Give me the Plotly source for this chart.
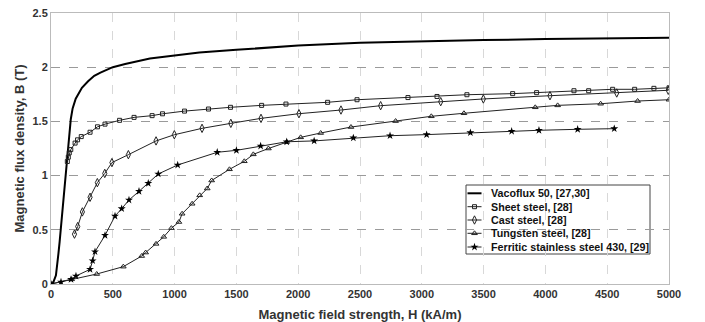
import plotly.graph_objects as go

vac_H = [0, 20, 40, 50, 60, 70, 80, 90, 100, 110, 120, 130, 140, 150, 160, 175, 200, 250, 300, 350, 400, 500, 600, 800, 1000, 1200, 1500, 2000, 2500, 3000, 3500, 4000, 4500, 5000]
vac_B = [0, 0.02, 0.08, 0.16, 0.28, 0.39, 0.52, 0.66, 0.8, 0.93, 1.05, 1.18, 1.3, 1.42, 1.52, 1.62, 1.71, 1.81, 1.87, 1.92, 1.95, 2.0, 2.03, 2.08, 2.11, 2.135, 2.16, 2.2, 2.225, 2.24, 2.25, 2.26, 2.265, 2.272]

sheet_H = [132, 140, 148, 160, 195, 215, 245, 316, 376, 437, 555, 672, 818, 902, 1080, 1274, 1452, 1704, 1901, 2238, 2476, 2888, 3123, 3365, 3735, 3929, 4231, 4350, 4544, 4722, 4878, 5000]
sheet_B = [1.13, 1.17, 1.21, 1.24, 1.30, 1.33, 1.36, 1.40, 1.45, 1.475, 1.51, 1.537, 1.553, 1.57, 1.595, 1.614, 1.63, 1.648, 1.66, 1.676, 1.70, 1.72, 1.73, 1.746, 1.756, 1.765, 1.783, 1.783, 1.796, 1.796, 1.805, 1.81]

cast_H = [190, 216, 254, 316, 375, 435, 493, 626, 850, 998, 1222, 1455, 1699, 2006, 2346, 2667, 3153, 3498, 4037, 4577, 4994]
cast_B = [0.46, 0.53, 0.665, 0.80, 0.935, 1.02, 1.12, 1.193, 1.32, 1.377, 1.436, 1.482, 1.528, 1.571, 1.605, 1.645, 1.682, 1.707, 1.737, 1.762, 1.787]

tung_H = [0, 167, 370, 585, 734, 766, 850, 912, 974, 1035, 1061, 1142, 1203, 1264, 1300, 1444, 1564, 1637, 1759, 1907, 2020, 2182, 2427, 2788, 3077, 3341, 3918, 4099, 4447, 4746, 5000]
tung_B = [0, 0.043, 0.092, 0.16, 0.258, 0.29, 0.37, 0.435, 0.515, 0.572, 0.648, 0.74, 0.818, 0.881, 0.955, 1.058, 1.132, 1.196, 1.25, 1.31, 1.353, 1.393, 1.448, 1.503, 1.547, 1.575, 1.63, 1.648, 1.663, 1.688, 1.70]

ferr_H = [0, 81, 162, 202, 316, 337, 356, 437, 518, 572, 631, 712, 787, 868, 1025, 1345, 1500, 1696, 1907, 2129, 2446, 2743, 3039, 3393, 3727, 3948, 4261, 4557]
ferr_B = [0, 0.018, 0.043, 0.074, 0.135, 0.215, 0.298, 0.449, 0.627, 0.695, 0.775, 0.855, 0.929, 1.015, 1.098, 1.215, 1.233, 1.273, 1.312, 1.32, 1.348, 1.368, 1.378, 1.396, 1.409, 1.418, 1.427, 1.433]

series_names = ["Vacoflux 50, [27,30]", "Sheet steel, [28]", "Cast steel, [28]",
                "Tungsten steel, [28]", "Ferritic stainless steel 430, [29]"]

x_ticks = [0, 500, 1000, 1500, 2000, 2500, 3000, 3500, 4000, 4500, 5000]
y_ticks = [0, 0.5, 1, 1.5, 2, 2.5]
y_tick_text = ["0", "0.5", "1", "1.5", "2", "2.5"]

FONT = "Liberation Sans, Arial, sans-serif"
LC = "#222222"

W, H = 705, 322
ML, MR, MT, MB = 51, 36, 13, 38
PW, PH = W - ML - MR, H - MT - MB

def fx(px):
    return (px - ML) / PW

def fy(py):
    return (H - MB - py) / PH

styles = [
    dict(mode="lines", line=dict(color="#000000", width=2), marker=None),
    dict(mode="lines+markers", line=dict(color=LC, width=1),
         marker=dict(symbol="square-open", size=4, color=LC, line=dict(width=1))),
    dict(mode="lines+markers", line=dict(color=LC, width=1),
         marker=dict(symbol="diamond-tall-open", size=6, color=LC, line=dict(width=1))),
    dict(mode="lines+markers", line=dict(color=LC, width=1),
         marker=dict(symbol="triangle-up-open", size=5, color=LC, line=dict(width=1))),
    dict(mode="lines+markers", line=dict(color=LC, width=1),
         marker=dict(symbol="star", size=6, color="#000000", line=dict(width=0))),
]
data = [(vac_H, vac_B), (sheet_H, sheet_B), (cast_H, cast_B), (tung_H, tung_B), (ferr_H, ferr_B)]

fig = go.Figure()
for (xs, ys), st, nm in zip(data, styles, series_names):
    kw = dict(x=xs, y=ys, mode=st["mode"], name=nm, line=st["line"], showlegend=False)
    if st["marker"] is not None:
        kw["marker"] = st["marker"]
    fig.add_trace(go.Scatter(**kw))

# custom compact legend (box, sample lines, sample markers, labels)
box = dict(x0=466, x1=650, y0=185, y1=254)
fig.add_shape(type="rect", xref="paper", yref="paper",
              x0=fx(box["x0"]), x1=fx(box["x1"]), y0=fy(box["y1"]), y1=fy(box["y0"]),
              line=dict(color="#444444", width=1), fillcolor="white", layer="between")
row_py = [193.3, 206.7, 220.0, 233.3, 247.0]
for i, (nm, st) in enumerate(zip(series_names, styles)):
    yy = fy(row_py[i])
    fig.add_shape(type="line", xref="paper", yref="paper",
                  x0=fx(467.5), x1=fx(481.5), y0=yy, y1=yy,
                  line=dict(color=st["line"]["color"], width=st["line"]["width"]), layer="between")
    if st["marker"] is not None:
        fig.add_trace(go.Scatter(x=[fx(474.5)], y=[yy], mode="markers", marker=st["marker"],
                                 xaxis="x2", yaxis="y2", showlegend=False, hoverinfo="skip"))
    fig.add_annotation(xref="paper", yref="paper", x=fx(489), y=yy, xanchor="left", yanchor="middle",
                       text=f"<b>{nm}</b>", showarrow=False,
                       font=dict(family=FONT, size=10.7, color="#111111"))

fig.update_layout(
    width=W, height=H,
    margin=dict(l=ML, r=MR, t=MT, b=MB, autoexpand=False),
    paper_bgcolor="white", plot_bgcolor="white",
    font=dict(family=FONT, size=11, color="#333333"),
    showlegend=False,
    xaxis2=dict(overlaying="x", range=[0, 1], visible=False, domain=[0, 1]),
    yaxis2=dict(overlaying="y", range=[0, 1], visible=False, domain=[0, 1]),
    xaxis=dict(
        range=[0, 5000], tickvals=x_ticks, ticktext=[f"<b>{v}</b>" for v in x_ticks],
        showgrid=True, gridcolor="#d8d8d8", griddash="dash", gridwidth=1,
        showline=True, linecolor="#bbbbbb", linewidth=1, mirror=True, automargin=False,
        zeroline=False, ticks="", tickfont=dict(size=11, color="#333333"),
        title=dict(text="<b>Magnetic field strength, H (kA/m)</b>", font=dict(size=13, color="#333333")),
    ),
    yaxis=dict(
        range=[0, 2.5], tickvals=y_ticks, ticktext=[f"<b>{v}</b>" for v in y_tick_text],
        showgrid=True, gridcolor="#9a9a9a", griddash="dash", gridwidth=1,
        showline=True, linecolor="#bbbbbb", linewidth=1, mirror=True, automargin=False,
        zeroline=False, ticks="", tickfont=dict(size=11, color="#333333"),
        title=dict(text="<b>Magnetic flux density, B (T)</b>", font=dict(size=13, color="#333333"), standoff=4),
    ),
)
fig.write_html("out.html")
